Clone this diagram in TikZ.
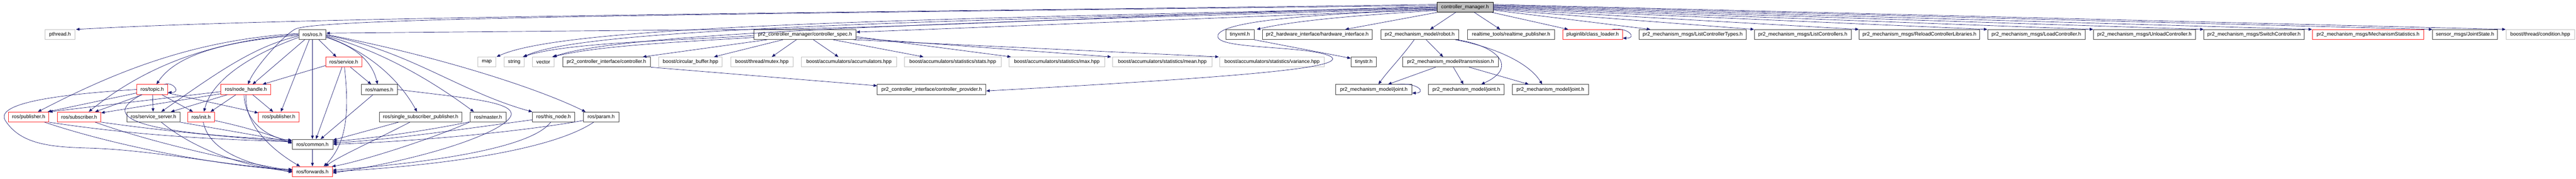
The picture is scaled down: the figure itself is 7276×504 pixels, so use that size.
\documentclass[tikz,border=0pt]{standalone}
\usepackage{fontspec}
\setmainfont{Liberation Sans}
\usetikzlibrary{arrows.meta}
\definecolor{edgec}{HTML}{191970}
\definecolor{docb}{HTML}{404040}
\definecolor{trb}{HTML}{FF2020}
\definecolor{extb}{HTML}{BFBFBF}
\definecolor{rootf}{HTML}{BFBFBF}
\newcommand{\nodefnt}{\fontsize{14.3pt}{17pt}\selectfont}
\tikzset{
  nbox/.style={draw, minimum height=28pt, inner sep=0pt, font=\nodefnt, line width=1.2pt, fill=white},
  doc/.style={nbox, draw=docb},
  trunc/.style={nbox, draw=trb},
  ext/.style={nbox, draw=extb},
  rootbox/.style={nbox, draw=black, fill=rootf},
  dep/.style={draw=edgec, line width=1pt, -{Triangle[length=10pt,width=8pt]}}
}
\begin{document}
\begin{tikzpicture}[x=1pt,y=-1pt]
\useasboundingbox (0,0) rectangle (7276,504);
% ---------- row 0
\node[rootbox, minimum width=158pt] (cm) at (4138,20.5) {controller\_manager.h};
% ---------- row 1
\node[ext, minimum width=85pt] (pthread) at (169.5,97.5) {pthread.h};
\node[doc, minimum width=77pt] (rosros) at (882.5,97.5) {ros/ros.h};
\node[doc, minimum width=288pt] (spec) at (2274,97.5) {pr2\_controller\_manager/controller\_spec.h};
\node[doc, minimum width=80pt] (tinyxml) at (3502,97.5) {tinyxml.h};
\node[doc, minimum width=310pt] (hwi) at (3721,97.5) {pr2\_hardware\_interface/hardware\_interface.h};
\node[doc, minimum width=220pt] (robot) at (4010,97.5) {pr2\_mechanism\_model/robot.h};
\node[doc, minimum width=246pt] (rtpub) at (4268,97.5) {realtime\_tools/realtime\_publisher.h};
\node[trunc, minimum width=169pt] (classloader) at (4498.5,97.5) {pluginlib/class\_loader.h};
\node[doc, minimum width=302pt] (lct) at (4781,97.5) {pr2\_mechanism\_msgs/ListControllerTypes.h};
\node[doc, minimum width=274pt] (lc) at (5092,97.5) {pr2\_mechanism\_msgs/ListControllers.h};
\node[doc, minimum width=341pt] (rcl) at (5421.5,97.5) {pr2\_mechanism\_msgs/ReloadControllerLibraries.h};
\node[doc, minimum width=275pt] (load) at (5751.5,97.5) {pr2\_mechanism\_msgs/LoadController.h};
\node[doc, minimum width=288pt] (unload) at (6057,97.5) {pr2\_mechanism\_msgs/UnloadController.h};
\node[doc, minimum width=283pt] (swc) at (6366.5,97.5) {pr2\_mechanism\_msgs/SwitchController.h};
\node[trunc, minimum width=315pt] (mstat) at (6688.5,97.5) {pr2\_mechanism\_msgs/MechanismStatistics.h};
\node[doc, minimum width=183pt] (js) at (6962.5,97.5) {sensor\_msgs/JointState.h};
\node[ext, minimum width=194pt] (cond) at (7175,97.5) {boost/thread/condition.hpp};
% ---------- row 2
\node[trunc, minimum width=102pt] (service) at (971,175) {ros/service.h};
\node[ext, minimum width=50pt] (map) at (1375,175) {map};
\node[ext, minimum width=57pt] (string) at (1452.5,175) {string};
\node[ext, minimum width=61pt] (vector) at (1534.5,175) {vector};
\node[doc, minimum width=248pt] (controller) at (1713,175) {pr2\_controller\_interface/controller.h};
\node[ext, minimum width=179pt] (circ) at (1950.5,175) {boost/circular\_buffer.hpp};
\node[ext, minimum width=176pt] (mutex) at (2152,175) {boost/thread/mutex.hpp};
\node[ext, minimum width=268pt] (accum) at (2398,175) {boost/accumulators/accumulators.hpp};
\node[ext, minimum width=274pt] (stats) at (2691,175) {boost/accumulators/statistics/stats.hpp};
\node[ext, minimum width=270pt] (max) at (2985,175) {boost/accumulators/statistics/max.hpp};
\node[ext, minimum width=280pt] (mean) at (3283,175) {boost/accumulators/statistics/mean.hpp};
\node[ext, minimum width=296pt] (variance) at (3593,175) {boost/accumulators/statistics/variance.hpp};
\node[doc, minimum width=72pt] (tinystr) at (3852,175) {tinystr.h};
\node[doc, minimum width=270pt] (trans) at (4097,175) {pr2\_mechanism\_model/transmission.h};
% ---------- row 3
\node[trunc, minimum width=88pt] (topic) at (430,252.5) {ros/topic.h};
\node[trunc, minimum width=141pt] (nh) at (694.5,252.5) {ros/node\_handle.h};
\node[doc, minimum width=101pt] (names) at (1071.5,252.5) {ros/names.h};
\node[doc, minimum width=307pt] (provider) at (2631.5,252.5) {pr2\_controller\_interface/controller\_provider.h};
\node[doc, minimum width=215pt] (jointa) at (3880.5,252.5) {pr2\_mechanism\_model/joint.h};
\node[doc, minimum width=215pt] (jointb) at (4141.5,252.5) {pr2\_mechanism\_model/joint.h};
\node[doc, minimum width=216pt] (jointc) at (4379,252.5) {pr2\_mechanism\_model/joint.h};
% ---------- row 4
\node[trunc, minimum width=114pt] (pub1) at (81,330) {ros/publisher.h};
\node[trunc, minimum width=123pt] (sub) at (223.5,330) {ros/subscriber.h};
\node[doc, minimum width=149pt] (srvserver) at (433.5,330) {ros/service\_server.h};
\node[trunc, minimum width=76pt] (init) at (568,330) {ros/init.h};
\node[trunc, minimum width=115pt] (pub2) at (787.5,330) {ros/publisher.h};
\node[doc, minimum width=232pt] (ssp) at (1188,330) {ros/single\_subscriber\_publisher.h};
\node[doc, minimum width=103pt] (master) at (1378.5,330) {ros/master.h};
\node[doc, minimum width=119pt] (thisnode) at (1563.5,330) {ros/this\_node.h};
\node[doc, minimum width=100pt] (param) at (1698,330) {ros/param.h};
% ---------- rows 5, 6
\node[doc, minimum width=115pt] (common) at (882.5,407) {ros/common.h};
\node[trunc, minimum width=113pt] (forwards) at (882.5,484) {ros/forwards.h};

% ================= edges from controller_manager.h
\draw[dep] ([yshift=8pt]cm.west) .. controls (2500,35) and (900,45) .. ([xshift=2pt]pthread.north east);
\draw[dep] ([yshift=2pt]cm.west) .. controls (3200,40) and (2600,82) .. (2000,84) -- ([yshift=4pt]rosros.east);
\draw[dep] ([yshift=5pt]cm.west) .. controls (2000,40) and (900,50) .. (834,82) .. controls (800,100) and (720,190) .. ([xshift=6pt]nh.north);
\draw[dep] ([yshift=0pt]cm.west) .. controls (2600,55) and (1600,70) .. ([xshift=2pt]map.north east);
\draw[dep] ([yshift=-2pt]cm.west) .. controls (2600,60) and (1650,80) .. ([xshift=-3pt]string.north east);
\draw[dep] ([yshift=-4pt]cm.west) .. controls (2600,65) and (1750,95) .. ([xshift=-3pt]vector.north east);
\draw[dep] ([yshift=-6pt]cm.west) .. controls (3200,60) and (2700,80) .. ([yshift=7pt]spec.east);
\draw[dep] ([yshift=-9pt]cm.west) .. controls (3800,45) and (3650,60) .. ([xshift=7pt]tinyxml.north east);
\draw[dep] (cm.south west) -- ([xshift=-77pt]hwi.north east);
\draw[dep] ([yshift=-7pt]cm.west) .. controls (3600,42) and (3430,70) .. (3440,105)
   .. controls (3450,140) and (3700,128) .. (3760,160)
   .. controls (3800,190) and (3550,215) .. ([yshift=-4pt]provider.east);
\draw[dep] ([xshift=53pt]cm.south west) -- ([xshift=140pt]robot.north west);
\draw[dep] ([xshift=106pt]cm.south west) -- ([xshift=93pt]rtpub.north west);
\draw[dep] ([xshift=-3pt]cm.south east) -- ([xshift=16pt]classloader.north west);
\draw[dep] ([yshift=-8pt]cm.east) -- ([xshift=32pt]lct.north west);
\draw[dep] ([yshift=-6pt]cm.east) -- (lc.north west);
\draw[dep] ([yshift=-4pt]cm.east) -- (rcl.north west);
\draw[dep] ([yshift=-2pt]cm.east) -- (load.north west);
\draw[dep] ([yshift=0pt]cm.east) -- (unload.north west);
\draw[dep] ([yshift=2pt]cm.east) -- (swc.north west);
\draw[dep] ([yshift=4pt]cm.east) -- (mstat.north west);
\draw[dep] ([yshift=6pt]cm.east) -- (js.north west);
\draw[dep] ([yshift=8pt]cm.east) -- (cond.north west);

% ================= controller_spec.h
\draw[dep] ([yshift=-3pt]spec.west) .. controls (1900,115) and (1600,120) .. ([xshift=-5pt]string.north east);
\draw[dep] ([yshift=-8pt]spec.west) .. controls (1900,120) and (1700,128) .. ([xshift=-6pt]vector.north east);
\draw[dep] ([xshift=37pt]spec.south west) -- ([xshift=-22pt]controller.north east);
\draw[dep] ([xshift=82pt]spec.south west) -- ([xshift=-24pt]circ.north east);
\draw[dep] ([xshift=120pt]spec.south west) -- ([xshift=28pt]mutex.north);
\draw[dep] ([xshift=168pt]spec.south west) -- ([xshift=-30pt]accum.north);
\draw[dep] ([xshift=224pt]spec.south west) -- ([xshift=55pt]stats.north west);
\draw[dep] ([yshift=-6pt]spec.east) -- ([xshift=6pt]max.north west);
\draw[dep] ([yshift=-10pt]spec.east) -- ([xshift=-4pt]mean.north west);
\draw[dep] ([xshift=-8pt]spec.south east) -- ([xshift=-2pt]variance.north west);
\draw[dep] (controller.south east) -- ([yshift=-4pt]provider.north west);
\draw[dep] (tinyxml.south east) -- ([yshift=-4pt]tinystr.north west);

% ================= mechanism model
\draw[dep] ([xshift=129pt]robot.south west) -- ([xshift=-21pt]trans.north);
\draw[dep] ([xshift=95pt]robot.south west) .. controls (3960,160) and (3920,200) .. ([xshift=13pt]jointa.north);
\draw[dep] ([xshift=-5pt]robot.south east) .. controls (4230,130) and (4290,190) .. ([xshift=42pt]jointb.north);
\draw[dep] ([xshift=-10pt]robot.south east) .. controls (4230,135) and (4320,180) .. ([xshift=-23pt]jointc.north);
\draw[dep] ([xshift=-42pt]trans.south) -- ([xshift=40pt]jointa.north);
\draw[dep] ([xshift=8pt]trans.south) -- ([xshift=-8pt]jointb.north);
\draw[dep] ([xshift=53pt]trans.south) -- ([xshift=-61pt]jointc.north);
\draw[dep] ([xshift=-42pt]jointa.north east) .. controls (4005,232) and (4030,262) .. ([yshift=-10pt]jointa.east);
\draw[dep] ([xshift=-30pt]classloader.north east) .. controls (4600,76) and (4625,108) .. ([yshift=-10pt]classloader.east);

% ================= ros/ros.h
\draw[dep] ([yshift=-2pt]rosros.west) .. controls (650,115) and (500,150) .. ([xshift=12pt]topic.north);
\draw[dep] ([yshift=3pt]rosros.west) .. controls (550,112) and (330,200) .. ([xshift=26pt]pub1.north);
\draw[dep] ([yshift=1pt]rosros.west) .. controls (600,118) and (420,180) .. ([xshift=27pt]sub.north);
\draw[dep] ([yshift=-4pt]rosros.west) .. controls (720,130) and (620,200) .. ([xshift=22pt]srvserver.north);
\draw[dep] ([yshift=-8pt]rosros.west) .. controls (720,150) and (600,220) .. ([xshift=8pt]init.north);
\draw[dep] ([xshift=-22pt]rosros.south) -- ([xshift=19pt]nh.north);
\draw[dep] ([xshift=-9pt]rosros.south) -- ([xshift=6pt]pub2.north);
\draw[dep] (rosros.south) -- (common.north);
\draw[dep] ([xshift=18pt]rosros.south) -- ([xshift=-21pt]service.north);
\draw[dep] ([yshift=-8pt]rosros.east) .. controls (1000,130) and (1050,170) .. ([xshift=-5pt]names.north);
\draw[dep] ([yshift=-6pt]rosros.east) .. controls (1050,150) and (1130,230) .. ([xshift=-10pt]ssp.north);
\draw[dep] ([yshift=-4pt]rosros.east) .. controls (1100,150) and (1250,250) .. ([xshift=-40pt]master.north);
\draw[dep] ([yshift=-2pt]rosros.east) .. controls (1150,140) and (1300,260) .. (thisnode.north west);
\draw[dep] ([yshift=0pt]rosros.east) .. controls (1200,150) and (1500,240) .. ([xshift=-44pt]param.north);

% ================= ros/service.h
\draw[dep] ([yshift=-10pt]service.west) -- ([xshift=-24pt]nh.north east);
\draw[dep] ([xshift=19pt]service.south) -- ([xshift=-23pt]names.north);
\draw[dep] ([xshift=-5pt]service.south) -- ([xshift=10pt]common.north);
\draw[dep] ([xshift=2pt]service.south) .. controls (985,300) and (985,400) .. ([xshift=32pt]forwards.north);

% ================= ros/node_handle.h
\draw[dep] ([yshift=-6pt]nh.west) -- (pub1.north east);
\draw[dep] ([yshift=-12pt]nh.west) -- ([yshift=-3pt]sub.north east);
\draw[dep] ([xshift=19pt]nh.south west) -- ([xshift=-26pt]srvserver.north east);
\draw[dep] ([xshift=43pt]nh.south west) -- ([xshift=-12pt]init.north east);
\draw[dep] ([xshift=-52pt]nh.south east) -- ([xshift=-16pt]pub2.north);
\draw[dep] ([xshift=-5pt]nh.south) .. controls (690,330) and (740,385) .. ([yshift=10pt]common.west);
\draw[dep] ([xshift=0pt]nh.south) .. controls (690,360) and (780,430) .. ([xshift=-35pt]forwards.north);

% ================= ros/topic.h
\draw[dep] ([yshift=-10pt]topic.west) -- ([xshift=-4pt]pub1.north east);
\draw[dep] ([xshift=-28pt]topic.south) -- ([xshift=45pt]sub.north);
\draw[dep] ([xshift=1pt]topic.south) -- ([xshift=-1pt]srvserver.north);
\draw[dep] ([xshift=27pt]topic.south) -- ([xshift=-23pt]init.north);
\draw[dep] ([yshift=-10pt]topic.east) -- ([yshift=-3pt]pub2.north west);
\draw[dep] ([xshift=-10pt]topic.north east) .. controls (490,230) and (512,262) .. ([yshift=-8pt]topic.east);
\draw[dep] ([xshift=-30pt]topic.south) .. controls (280,330) and (380,375) .. ([yshift=12pt]common.west);
\draw[dep] (topic.west) .. controls (100,270) and (-10,300) .. (15,340)
   .. controls (60,410) and (150,415) .. (260,418)
   .. controls (450,425) and (650,470) .. ([yshift=6pt]forwards.west);

% ================= row 4 to common / forwards
\draw[dep] ([xshift=-1pt]pub1.south east) .. controls (400,385) and (650,395) .. ([yshift=8pt]common.west);
\draw[dep] ([xshift=-13pt]pub1.south east) .. controls (350,420) and (650,470) .. ([yshift=4pt]forwards.west);
\draw[dep] (sub.south east) .. controls (500,375) and (700,390) .. ([yshift=6pt]common.west);
\draw[dep] ([xshift=-17pt]sub.south east) .. controls (450,410) and (700,460) .. ([yshift=2pt]forwards.west);
\draw[dep] (srvserver.south east) .. controls (650,370) and (750,385) .. ([yshift=4pt]common.west);
\draw[dep] ([xshift=22pt]srvserver.south) .. controls (560,430) and (700,470) .. ([yshift=0pt]forwards.west);
\draw[dep] ([yshift=-10pt]init.east) .. controls (700,360) and (780,385) .. ([yshift=2pt]common.west);
\draw[dep] ([xshift=6pt]init.south) .. controls (590,420) and (680,460) .. ([yshift=-2pt]forwards.west);
\draw[dep] ([xshift=-18pt]names.south) -- ([xshift=23pt]common.north);
\draw[dep] (names.east) .. controls (1300,275) and (1440,285) .. (1444,320)
   .. controls (1448,360) and (1250,440) .. ([yshift=-4pt]forwards.east);
\draw[dep] ([xshift=-62pt]ssp.south) -- ([yshift=-3pt]common.north east);
\draw[dep] ([xshift=-30pt]ssp.south) .. controls (1050,400) and (960,440) .. ([xshift=36pt]forwards.north);
\draw[dep] ([yshift=1pt]master.south west) .. controls (1200,370) and (1050,390) .. ([yshift=8pt]common.east);
\draw[dep] (master.south west) .. controls (1200,400) and (1000,460) .. ([xshift=-2pt]forwards.north east);
\draw[dep] ([yshift=-8pt]thisnode.west) .. controls (1300,365) and (1100,395) .. ([yshift=4pt]common.east);
\draw[dep] ([xshift=-8pt]thisnode.south) .. controls (1500,420) and (1200,460) .. ([yshift=4pt]forwards.east);
\draw[dep] ([yshift=-10pt]param.west) .. controls (1450,375) and (1150,400) .. ([yshift=0pt]common.east);
\draw[dep] ([xshift=-21pt]param.south) .. controls (1550,430) and (1200,470) .. ([yshift=0pt]forwards.east);
\draw[dep] (common.south) -- (forwards.north);
\end{tikzpicture}
\end{document}
